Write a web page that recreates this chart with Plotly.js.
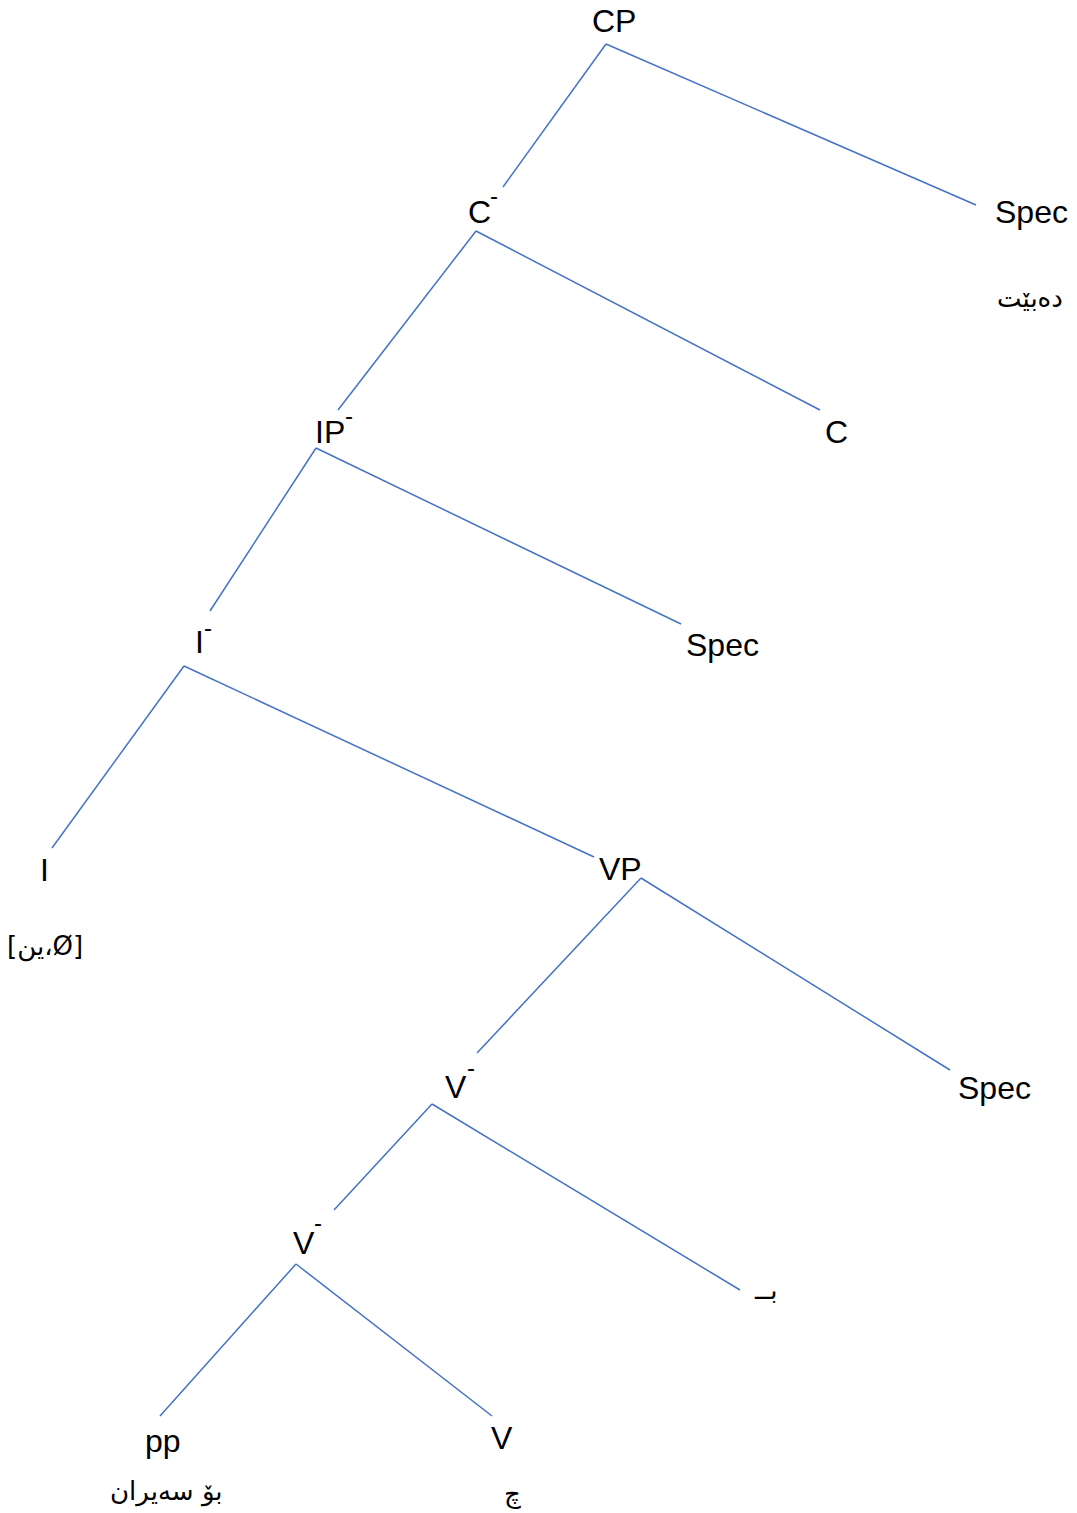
<!DOCTYPE html>
<html>
<head>
<meta charset="utf-8">
<script src="https://cdn.plot.ly/plotly-3.0.1.min.js"></script>
<style>html,body{margin:0;padding:0;background:#fff;}</style>
</head>
<body>
<div id="chart" style="width:1077px;height:1513px;"></div>
<script>
// Node labels (syntax tree)
const nodeLabels = ["CP", "C", "Spec", "IP", "C", "I", "Spec", "I", "VP", "V", "Spec", "V", "pp", "V"];
const nodeX      = [614, 479, 1031, 330, 836, 199, 722, 44, 620, 456, 994, 304, 163, 502];
const nodeY      = [21, 212, 212, 432, 432, 642, 645, 870, 869, 1087, 1088, 1243, 1441, 1438];

// Bar marks (X-bar levels) next to intermediate nodes
const barLabels = ["-", "-", "-", "-", "-"];
const barX      = [494, 349, 208, 471, 318];
const barY      = [195, 415, 627, 1067, 1222];

// Gloss words under terminal nodes
const glossLabels = ["دەبێت", "[ین،Ø]", "بــ", "بۆ سەیران", "چ"];
const glossX      = [1030, 45, 765, 166, 512];
const glossY      = [298, 946, 1290, 1491, 1494];

// Branches: parent bottom -> child top
const edgeX0 = [606, 606, 476, 476, 316, 316, 184, 184, 641, 641, 432, 432, 296, 296];
const edgeY0 = [44, 44, 231, 231, 448, 448, 666, 666, 878, 878, 1104, 1104, 1264, 1264];
const edgeX1 = [503, 976, 338, 820, 210, 681, 52, 594, 477, 950, 334, 740, 160, 492];
const edgeY1 = [187, 205, 410, 410, 611, 624, 848, 857, 1053, 1070, 1210, 1290, 1416, 1416];

const lx = [], ly = [];
for (let i = 0; i < edgeX0.length; i++) {
  lx.push(edgeX0[i], edgeX1[i], null);
  ly.push(edgeY0[i], edgeY1[i], null);
}

const traces = [{
  type: "scatter", mode: "lines", x: lx, y: ly,
  line: {color: "#4472C4", width: 1.5}, hoverinfo: "skip", showlegend: false
}];

const annotations = [];
nodeLabels.forEach((t, i) => annotations.push({
  x: nodeX[i], y: nodeY[i], xref: "x", yref: "y", text: t, showarrow: false,
  xanchor: "center", yanchor: "middle",
  font: {family: "Liberation Sans, Arial, sans-serif", size: 32, color: "#000"}
}));
barLabels.forEach((t, i) => annotations.push({
  x: barX[i], y: barY[i], xref: "x", yref: "y", text: t, showarrow: false,
  xanchor: "center", yanchor: "middle",
  font: {family: "Liberation Sans, Arial, sans-serif", size: 24, color: "#000"}
}));
glossLabels.forEach((t, i) => annotations.push({
  x: glossX[i], y: glossY[i], xref: "x", yref: "y", text: t, showarrow: false,
  xanchor: "center", yanchor: "middle",
  font: {family: "DejaVu Sans, Liberation Sans, sans-serif", size: 26, color: "#000"}
}));

const layout = {
  width: 1077, height: 1513,
  margin: {l: 0, r: 0, t: 0, b: 0},
  paper_bgcolor: "#fff", plot_bgcolor: "#fff",
  xaxis: {range: [0, 1077], visible: false, fixedrange: true},
  yaxis: {range: [1513, 0], visible: false, fixedrange: true},
  annotations: annotations,
  showlegend: false
};

Plotly.newPlot("chart", traces, layout, {displayModeBar: false, staticPlot: true});
</script>
</body>
</html>
